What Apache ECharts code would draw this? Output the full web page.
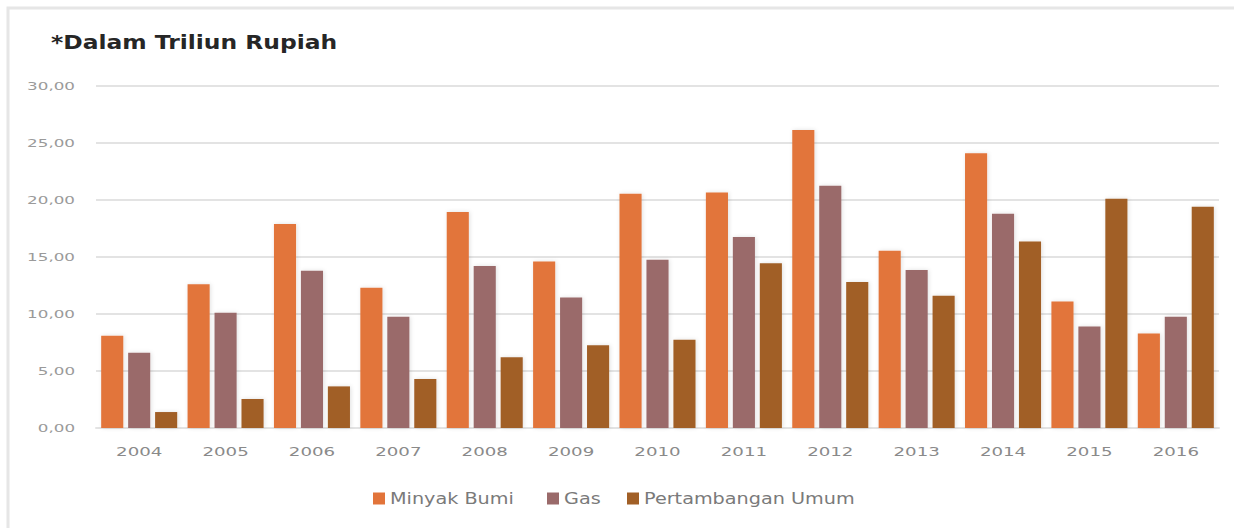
<!DOCTYPE html>
<html>
<head>
<meta charset="utf-8">
<script src="https://cdn.jsdelivr.net/npm/echarts@6/dist/echarts.min.js"></script>
<style>
  html, body { margin: 0; padding: 0; background: #fff; }
  #chart { width: 1234px; height: 528px; }
</style>
</head>
<body>
<div id="chart"></div>
<script>
const years = ['2004', '2005', '2006', '2007', '2008', '2009', '2010', '2011', '2012', '2013', '2014', '2015', '2016']
const minyakBumi = [8.1, 12.6, 17.9, 12.3, 18.95, 14.6, 20.55, 20.65, 26.15, 15.55, 24.1, 11.1, 8.3]
const gas = [6.6, 10.1, 13.8, 9.75, 14.2, 11.45, 14.75, 16.75, 21.25, 13.85, 18.8, 8.9, 9.75]
const pertambanganUmum = [1.4, 2.55, 3.65, 4.3, 6.2, 7.25, 7.75, 14.45, 12.8, 11.6, 16.35, 20.1, 19.4]

const colors = ['#e2743a', '#9a6a6a', '#a15f26']
const names = ['Minyak Bumi', 'Gas', 'Pertambangan Umum']
const legendLeft = [373, 547, 627]

const chart = echarts.init(document.getElementById('chart'), null, { renderer: 'svg' })

const makeSeries = (name, data, color) => ({
  name,
  type: 'bar',
  data,
  barGap: '22%',
  barCategoryGap: '12%',
  itemStyle: {
    color,
    shadowColor: 'rgba(0,0,0,0.12)',
    shadowBlur: 4,
    shadowOffsetX: 1
  }
})

// one legend per item so the widened text can sit where it does in the source
const legends = names.map((n, i) => ({
  data: [n],
  left: legendLeft[i],
  top: 491,
  itemWidth: 12,
  itemHeight: 12,
  icon: 'rect',
  padding: 0,
  textStyle: { fontSize: 15, color: '#7a7a7a', fontFamily: 'DejaVu Sans' }
}))

chart.setOption({
  animation: false,
  backgroundColor: '#fff',
  textStyle: { fontFamily: 'DejaVu Sans' },
  title: {
    text: '*Dalam Triliun Rupiah',
    left: 46,
    top: 27,
    textStyle: { fontSize: 20, fontWeight: 'bold', color: '#262626', fontFamily: 'DejaVu Sans' }
  },
  graphic: [{
    type: 'rect',
    shape: { x: 8, y: 8, width: 1240, height: 530 },
    style: { fill: 'none', stroke: '#e6e6e6', lineWidth: 3 },
    silent: true
  }],
  legend: legends,
  grid: { left: 96, right: 15, top: 86, bottom: 100 },
  xAxis: {
    type: 'category',
    data: years,
    axisLine: { show: true, lineStyle: { color: '#e3e3e3', width: 2 } },
    axisTick: { show: false },
    axisLabel: { color: '#8a8a8a', fontSize: 13, margin: 17 }
  },
  yAxis: {
    type: 'value',
    min: 0,
    max: 30,
    interval: 5,
    axisLine: { show: false },
    axisTick: { show: false },
    axisLabel: {
      color: '#9a9a9a',
      fontSize: 11,
      margin: 21,
      formatter: v => v.toFixed(2).replace('.', ',')
    },
    splitLine: { lineStyle: { color: '#e3e3e3', width: 2 } }
  },
  series: names.map((n, i) => makeSeries(n, [minyakBumi, gas, pertambanganUmum][i], colors[i]))
})

// the source picture is horizontally stretched: widen the glyphs of each text kind
const stretch = { '11px': 1.52, '13px': 1.4, '15px': 1.28, '20px': 1.17 }
function widen() {
  document.querySelectorAll('#chart text').forEach(t => {
    if (t.getAttribute('lengthAdjust')) return
    const st = t.getAttribute('style') || ''
    for (const k in stretch) {
      if (st.includes(k)) {
        const len = t.getComputedTextLength()
        t.setAttribute('textLength', (len * stretch[k]).toFixed(1))
        t.setAttribute('lengthAdjust', 'spacingAndGlyphs')
        break
      }
    }
  })
}
chart.on('finished', widen)
widen()
</script>
</body>
</html>
